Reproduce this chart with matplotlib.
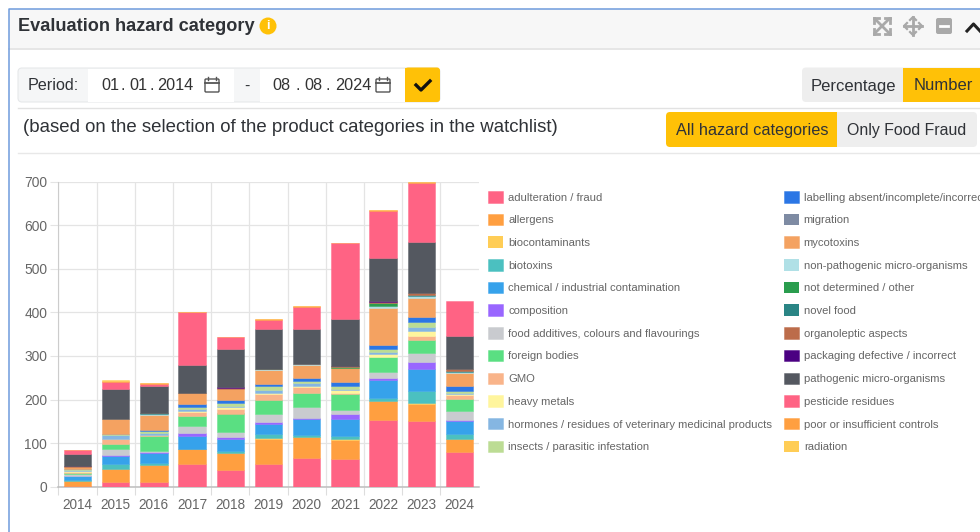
import numpy as np
import matplotlib
matplotlib.use('Agg')
import matplotlib.pyplot as plt
from matplotlib.patches import Rectangle, FancyBboxPatch, Circle

plt.rcParams['font.family'] = ['Liberation Sans', 'DejaVu Sans']

years = ['2014', '2015', '2016', '2017', '2018', '2019', '2020', '2021', '2022', '2023', '2024']

adulteration = [2, 11, 11, 53, 38, 53, 66, 63, 152, 151, 80]
allergens = [11, 29, 39, 33, 39, 56, 47, 44, 45, 39, 29]
biocontaminants = [0, 0, 0, 0, 0, 3, 1, 3, 0, 2, 1]
biotoxins = [2, 11, 4, 1, 5, 9, 5, 7, 7, 27, 10]
chemical = [9, 19, 23, 29, 27, 23, 37, 39, 41, 51, 30]
composition = [1, 2, 3, 8, 6, 5, 1, 10, 4, 16, 4]
additives = [5, 15, 2, 15, 11, 17, 27, 11, 14, 20, 19]
foreign = [2, 12, 34, 23, 42, 32, 30, 35, 34, 30, 29]
gmo = [2, 10, 2, 9, 11, 14, 15, 4, 0, 11, 8]
heavy_metals = [3, 1, 1, 3, 3, 3, 1, 5, 7, 10, 3]
hormones = [1, 8, 5, 5, 3, 7, 7, 4, 5, 9, 2]
insects = [2, 3, 3, 5, 6, 8, 5, 5, 8, 12, 4]
labelling = [1, 1, 3, 6, 8, 6, 7, 10, 9, 11, 12]
migration = [0, 0, 0, 0, 0, 0, 0, 0, 0, 0, 0]
mycotoxins = [5, 33, 34, 24, 26, 32, 31, 32, 84, 44, 31]
non_pathogenic = [0, 0, 4, 0, 0, 1, 1, 0, 5, 5, 2]
not_determined = [0, 0, 0, 0, 0, 1, 0, 3, 6, 0, 0]
novel_food = [0, 0, 1, 0, 0, 0, 0, 0, 0, 2, 2]
organoleptic = [1, 0, 1, 2, 2, 1, 1, 2, 4, 4, 3]
packaging = [1, 0, 0, 0, 2, 0, 0, 1, 1, 0, 0]
pathogenic = [28, 70, 61, 64, 86, 92, 79, 107, 98, 118, 78]
pesticide = [8, 16, 5, 120, 28, 19, 52, 174, 109, 136, 80]
poor_controls = [1, 2, 1, 1, 1, 2, 1, 1, 1, 1, 0]
radiation = [0, 1, 1, 1, 0, 1, 1, 0, 1, 1, 0]

series = [adulteration, allergens, biocontaminants, biotoxins, chemical, composition,
          additives, foreign, gmo, heavy_metals, hormones, insects, labelling, migration,
          mycotoxins, non_pathogenic, not_determined, novel_food, organoleptic, packaging,
          pathogenic, pesticide, poor_controls, radiation]
labels = ['adulteration / fraud', 'allergens', 'biocontaminants', 'biotoxins',
          'chemical / industrial contamination', 'composition',
          'food additives, colours and flavourings', 'foreign bodies', 'GMO', 'heavy metals',
          'hormones / residues of veterinary medicinal products', 'insects / parasitic infestation',
          'labelling absent/incomplete/incorrect', 'migration', 'mycotoxins',
          'non-pathogenic micro-organisms', 'not determined / other', 'novel food',
          'organoleptic aspects', 'packaging defective / incorrect', 'pathogenic micro-organisms',
          'pesticide residues', 'poor or insufficient controls', 'radiation']
colors = ['#ff6384', '#ff9f40', '#ffcd56', '#4bc0c0', '#36a2eb', '#9966ff', '#c9cbcf', '#5adf82',
          '#f9b48a', '#fff59d', '#85b6e2', '#bcdc94', '#2b76e5', '#7e8ba3', '#f4a261', '#b0e0e6',
          '#2a9d4e', '#2a8585', '#bc6c4a', '#4b0082', '#545860', '#ff6384', '#ff9f40', '#ffcd56']

fig = plt.figure(figsize=(9.8, 5.32), dpi=100)

# page chrome, drawn in pixel coords
ui = fig.add_axes([0, 0, 1, 1], zorder=0)
ui.set_xlim(0, 980)
ui.set_ylim(532, 0)
ui.axis('off')

YELLOW = '#ffc107'
GREY_BTN = '#eeeeee'
TXT = '#2f3237'


def box(x0, y0, x1, y1, fc, ec='none', lw=0, r=0):
    if r:
        p = FancyBboxPatch((x0 + r, y0 + r), x1 - x0 - 2 * r, y1 - y0 - 2 * r,
                           boxstyle='round,pad=%g,rounding_size=%g' % (r, r), fc=fc, ec=ec, lw=lw)
    else:
        p = Rectangle((x0, y0), x1 - x0, y1 - y0, fc=fc, ec=ec, lw=lw)
    ui.add_patch(p)


def label(x, y, s, size, color=TXT, ha='center', **kw):
    ui.text(x, y, s, fontsize=size, color=color, ha=ha, va='center', **kw)


def calendar(cx, cy):
    box(cx - 7, cy - 6, cx + 7, cy + 7, 'none', '#555555', 1.0, r=1)
    ui.plot([cx - 7, cx + 7], [cy - 2, cy - 2], color='#555555', lw=1.3)
    ui.plot([cx - 4, cx - 4], [cy - 8, cy - 5], color='#555555', lw=1)
    ui.plot([cx + 4, cx + 4], [cy - 8, cy - 5], color='#555555', lw=1)


def date_text(parts, xs):
    for s, px in zip(parts, xs):
        label(px, 85.5, s, 11.7, color='#333333')


# panel header
box(9, 9, 981, 48, '#f7f7f7')
ui.plot([8.5, 981], [48.5, 48.5], color='#e2e2e2', lw=1.2)
ui.plot([8.5, 8.5, 981], [532, 9, 9], color='#6f9bdc', lw=1.1)
label(18, 26.5, 'Evaluation hazard category', 13.1, ha='left', fontweight='bold')
ui.add_patch(Circle((268, 26), 8.5, fc=YELLOW, ec='none'))
label(268, 26, 'i', 9, color='white', fontweight='bold')

# header icons
ICON = '#a9a9a9'
for dx, dy in [(-1, -1), (1, 1), (-1, 1), (1, -1)]:
    ui.plot([882, 882 + 7 * dx], [26, 26 + 7 * dy], color=ICON, lw=2)
    ui.plot([882 + 8 * dx, 882 + 3 * dx], [26 + 8 * dy, 26 + 8 * dy], color=ICON, lw=2)
    ui.plot([882 + 8 * dx, 882 + 8 * dx], [26 + 8 * dy, 26 + 3 * dy], color=ICON, lw=2)
ui.plot([904, 922], [26, 26], color=ICON, lw=2)
ui.plot([913, 913], [17, 35], color=ICON, lw=2)
ui.plot([907, 904, 907], [23, 26, 29], color=ICON, lw=1.6)
ui.plot([919, 922, 919], [23, 26, 29], color=ICON, lw=1.6)
ui.plot([910, 913, 916], [20, 17, 20], color=ICON, lw=1.6)
ui.plot([910, 913, 916], [32, 35, 32], color=ICON, lw=1.6)
box(936, 18, 952, 34, ICON, r=2)
ui.plot([940, 948], [26, 26], color='white', lw=2)
ui.plot([967, 973.5, 980], [31, 24, 31], color='#222222', lw=2.2)

# period selector
box(18, 68, 440, 102, '#f5f6f7', '#e6e8ea', 0.8, r=4)
box(88, 68.5, 234, 101.5, 'white')
box(260, 68.5, 405, 101.5, 'white')
box(405, 67.5, 440, 102, YELLOW, r=3)
box(405, 67.5, 412, 102, YELLOW)
label(53, 86, 'Period:', 11.6)
date_text(['01', '.', '01', '.', '2014'], [110, 122.5, 138.5, 151.5, 175.5])
label(247, 86, '-', 11.6)
date_text(['08', '.', '08', '.', '2024'], [281.5, 298, 313.5, 328, 353])
calendar(212, 85)
calendar(383, 85)
ui.plot([416, 421, 430], [85, 90, 81], color='#111111', lw=2.4)

# percentage / number toggle
box(802, 67.5, 990, 102, GREY_BTN, r=4)
box(903, 67.5, 981, 102, YELLOW)
label(853, 86, 'Percentage', 12)
label(943, 86, 'Number', 12)

ui.plot([18, 981], [107.5, 107.5], color='#e2e2e2', lw=1)
label(23, 127.5, '(based on the selection of the product categories in the watchlist)', 13.4, ha='left')

box(666, 112, 837, 147, YELLOW, r=4)
box(830, 112, 837, 147, YELLOW)
box(837, 112, 977, 147, GREY_BTN, r=4)
box(837, 112, 845, 147, GREY_BTN)
label(752, 131, 'All hazard categories', 11.7)
label(907, 131, 'Only Food Fraud', 11.45)
ui.plot([18, 981], [153, 153], color='#e8e8e8', lw=1)

# the chart
ax = fig.add_axes([58.3 / 980, (532 - 486.7) / 532, 420.4 / 980, 305 / 532], zorder=1)
ax.patch.set_alpha(0)
x = np.arange(len(years))
bottom = np.zeros(len(years))
for vals, name, col in zip(series, labels, colors):
    vals = np.array(vals)
    ax.bar(x, vals, 0.72, bottom=bottom, color=col, label=name,
           edgecolor=matplotlib.colors.to_rgba(col, 0.45),
           linewidth=[0.7 if v > 0 else 0 for v in vals], zorder=3)
    bottom = bottom + vals

ax.set_xlim(-0.5, len(years) - 0.5)
ax.set_ylim(0, 700)
ax.set_yticks(np.arange(0, 701, 100))
ax.set_xticks(x)
ax.set_xticklabels(years)
ax.set_xticks(np.arange(len(years)) - 0.5, minor=True)
ax.tick_params(axis='x', which='major', length=0, pad=8, labelsize=9.8, labelcolor='#666666')
ax.tick_params(axis='x', which='minor', length=5.5, width=0.8, color='#dddddd')
ax.tick_params(axis='y', length=6, width=0.8, color='#e4e4e4', pad=2, labelsize=9.9, labelcolor='#666666')
ax.grid(axis='y', color='#e4e4e4', lw=0.9, zorder=0)
ax.grid(axis='x', which='minor', color='#e4e4e4', lw=0.9, zorder=0)
for s in ['top', 'right']:
    ax.spines[s].set_visible(False)
ax.spines['left'].set_color('#cccccc')
ax.spines['bottom'].set_color('#bdbdbd')
ax.spines['bottom'].set_linewidth(1.1)

leg = ax.legend(ncol=2, loc='upper left', bbox_to_anchor=(488 / 980, 1 - 191 / 532),
                bbox_transform=fig.transFigure, frameon=False, fontsize=8.14,
                labelcolor='#666666', borderaxespad=0, borderpad=0,
                handlelength=1.34, handleheight=1.2, handletextpad=0.45,
                labelspacing=0.98, columnspacing=1.0)
leg.set_clip_on(False)

fig.savefig('out.png', dpi=100)
